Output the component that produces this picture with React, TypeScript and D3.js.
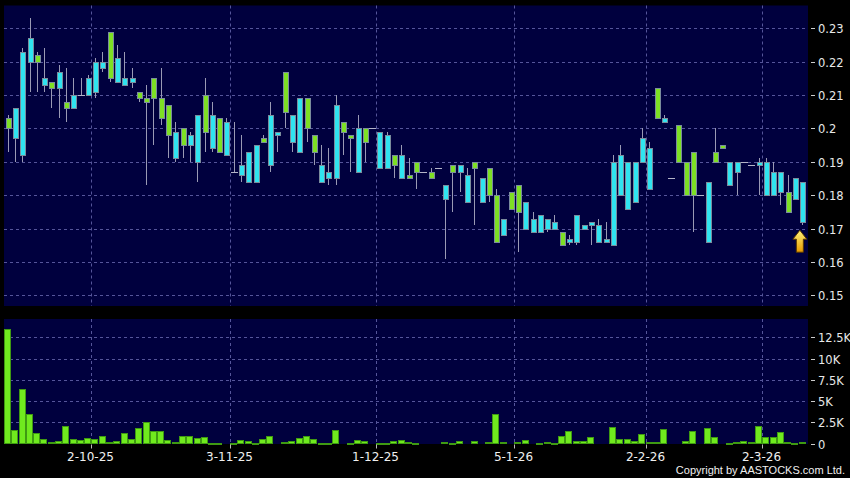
import React, { useEffect, useRef } from "react";
import * as d3 from "d3";

// daily OHLC, oldest first
const openP = [
  0.203, 0.197, 0.192, 0.22, 0.222, 0.213, 0.214, 0.212, 0.208, 0.206,
  0.21, 0.21, 0.211, 0.218, 0.229, 0.214, 0.213, 0.214, 0.211, 0.209,
  0.215, 0.209, 0.207, 0.191, 0.2, 0.195, 0.19, 0.21, 0.194, 0.203,
  0.192, 0.187, 0.186, 0.184, 0.184, 0.197, 0.189, 0.198, 0.217, 0.196,
  0.193, 0.209, 0.198, 0.184, 0.185, 0.185, 0.202, 0.198, 0.187, 0.2,
  0.2, 0.188, 0.188, 0.192, 0.185, 0.186, 0.19, 0.187, 0.187, 0.188,
  0.179, 0.189, 0.187, 0.178, 0.19, 0.178, 0.188, 0.18, 0.168, 0.181,
  0.183, 0.17, 0.169, 0.169, 0.17, 0.17, 0.169, 0.166, 0.166, 0.17,
  0.171, 0.166, 0.166, 0.165, 0.18, 0.176, 0.178, 0.19, 0.182, 0.212,
  0.202, 0.185, 0.201, 0.19, 0.193, 0.18, 0.166, 0.193, 0.195, 0.183,
  0.187, 0.19, 0.189, 0.189, 0.18, 0.18, 0.181, 0.181, 0.179, 0.172,
];
const highP = [
  0.204, 0.206, 0.224, 0.233, 0.223, 0.224, 0.214, 0.219, 0.218, 0.215,
  0.215, 0.216, 0.221, 0.223, 0.229, 0.225, 0.223, 0.218, 0.211, 0.213,
  0.215, 0.218, 0.207, 0.202, 0.2, 0.199, 0.204, 0.215, 0.208, 0.203,
  0.203, 0.202, 0.198, 0.193, 0.195, 0.198, 0.208, 0.199, 0.217, 0.204,
  0.209, 0.209, 0.198, 0.195, 0.194, 0.21, 0.202, 0.198, 0.204, 0.2,
  0.2, 0.199, 0.199, 0.192, 0.195, 0.191, 0.19, 0.187, 0.188, 0.188,
  0.183, 0.189, 0.189, 0.188, 0.19, 0.185, 0.188, 0.182, 0.173, 0.181,
  0.183, 0.178, 0.175, 0.174, 0.173, 0.174, 0.169, 0.168, 0.174, 0.171,
  0.172, 0.173, 0.172, 0.192, 0.195, 0.19, 0.19, 0.2, 0.196, 0.212,
  0.204, 0.185, 0.201, 0.19, 0.193, 0.18, 0.184, 0.2, 0.195, 0.19,
  0.19, 0.19, 0.189, 0.191, 0.191, 0.19, 0.187, 0.186, 0.185, 0.184,
];
const lowP = [
  0.193, 0.19, 0.19, 0.211, 0.211, 0.211, 0.206, 0.203, 0.202, 0.206,
  0.21, 0.21, 0.209, 0.217, 0.214, 0.214, 0.213, 0.212, 0.208, 0.183,
  0.195, 0.201, 0.191, 0.19, 0.191, 0.19, 0.184, 0.193, 0.193, 0.193,
  0.192, 0.187, 0.184, 0.184, 0.184, 0.196, 0.187, 0.193, 0.2, 0.193,
  0.193, 0.196, 0.189, 0.184, 0.183, 0.183, 0.192, 0.187, 0.187, 0.19,
  0.2, 0.188, 0.188, 0.185, 0.185, 0.185, 0.182, 0.187, 0.185, 0.188,
  0.161, 0.175, 0.181, 0.178, 0.171, 0.178, 0.178, 0.166, 0.168, 0.176,
  0.163, 0.17, 0.169, 0.169, 0.169, 0.17, 0.165, 0.165, 0.165, 0.17,
  0.165, 0.166, 0.166, 0.165, 0.18, 0.176, 0.178, 0.19, 0.182, 0.203,
  0.202, 0.185, 0.19, 0.18, 0.169, 0.18, 0.166, 0.19, 0.194, 0.183,
  0.18, 0.19, 0.189, 0.18, 0.18, 0.18, 0.177, 0.175, 0.179, 0.171,
];
const closeP = [
  0.2, 0.206, 0.223, 0.227, 0.22, 0.215, 0.212, 0.217, 0.206, 0.21,
  0.21, 0.215, 0.22, 0.22, 0.215, 0.221, 0.215, 0.215, 0.209, 0.208,
  0.209, 0.203, 0.198, 0.199, 0.195, 0.198, 0.204, 0.199, 0.204, 0.193,
  0.202, 0.187, 0.189, 0.193, 0.195, 0.196, 0.204, 0.199, 0.205, 0.204,
  0.209, 0.2, 0.193, 0.189, 0.187, 0.207, 0.199, 0.197, 0.2, 0.196,
  0.2, 0.199, 0.198, 0.189, 0.192, 0.185, 0.187, 0.187, 0.185, 0.188,
  0.183, 0.187, 0.189, 0.186, 0.188, 0.185, 0.18, 0.166, 0.173, 0.176,
  0.175, 0.178, 0.173, 0.174, 0.173, 0.172, 0.165, 0.167, 0.174, 0.171,
  0.172, 0.171, 0.167, 0.19, 0.192, 0.19, 0.19, 0.197, 0.194, 0.203,
  0.203, 0.185, 0.19, 0.18, 0.18, 0.18, 0.184, 0.19, 0.194, 0.19,
  0.19, 0.19, 0.189, 0.19, 0.19, 0.187, 0.187, 0.175, 0.185, 0.184,
];
const volume = [
  13480, 1570, 6370, 3460, 1180, 550, 160, 310, 2100, 550,
  390, 630, 510, 940, 120, 310, 1260, 510, 1830, 2480,
  1530, 1450, 390, 140, 860, 860, 630, 790, 100, 100,
  0, 80, 470, 260, 40, 510, 860, 0, 150, 310,
  700, 850, 510, 110, 110, 1590, 0, 60, 390, 280,
  0, 100, 110, 260, 390, 180, 100, 0, 0, 0,
  200, 100, 240, 0, 330, 0, 140, 3420, 160, 0,
  120, 390, 0, 110, 220, 80, 900, 1420, 280, 310,
  710, 0, 0, 1910, 510, 510, 260, 1100, 150, 220,
  1690, 0, 0, 330, 1490, 0, 1810, 790, 0, 100,
  130, 240, 150, 2100, 790, 750, 1300, 150, 110, 220,
];

const dateTickIndex = [12, 31, 51, 70, 88, 104];
const dateTickLabels = ["2-10-25", "3-11-25", "1-12-25", "5-1-26", "2-2-26", "2-3-26"];
const priceTicks = [0.15, 0.16, 0.17, 0.18, 0.19, 0.2, 0.21, 0.22, 0.23];
const volTicks = [0, 2500, 5000, 7500, 10000, 12500];
const volTickLabels = ["0", "2.5K", "5K", "7.5K", "10K", "12.5K"];

const UP = "#30e4f0";
const DOWN = "#7ee024";
const BG = "#00003e";
const GRID = "#55559a";

const CandleChart = () => {
  const ref = useRef(null);

  useEffect(() => {
    const width = 850;
    const height = 478;
    const left = 4;
    const right = 808;
    const pTop = 5.5;
    const pBottom = 306;
    const vTop = 319;
    const vBottom = 443.5;

    const root = d3.select(ref.current);
    root.selectAll("*").remove();

    const svg = root
      .append("svg")
      .attr("width", width)
      .attr("height", height)
      .style("position", "absolute")
      .style("left", 0)
      .style("top", 0)
      .style("font-family", "'DejaVu Sans', sans-serif");

    svg.append("rect").attr("width", width).attr("height", height).attr("fill", "#000");

    const idx = d3.range(closeP.length);
    const x = d3.scaleBand().domain(idx).range([left, right - 2]).paddingInner(0.2).paddingOuter(0.1);
    const step = x.step();
    const cx = (i) => x(i) + x.bandwidth() / 2;
    const gridX = (i) => Math.round(cx(i) - step / 2) + 0.5;

    const y = d3.scaleLinear().domain([0.15, 0.23]).range([295.3, 28.3]);
    const yv = d3.scaleLinear().domain([0, 12500]).range([vBottom, 337.3]);

    // panels
    svg.append("rect").attr("x", left).attr("y", pTop).attr("width", right - left).attr("height", pBottom - pTop).attr("fill", BG);
    svg.append("rect").attr("x", left).attr("y", vTop).attr("width", right - left).attr("height", vBottom - vTop + 0.5).attr("fill", BG);

    const grid = svg.append("g").attr("stroke", GRID).attr("stroke-width", 1).attr("stroke-dasharray", "3,3");
    priceTicks.forEach((t) => {
      const yy = Math.round(y(t)) + 0.5;
      grid.append("line").attr("x1", left).attr("x2", right).attr("y1", yy).attr("y2", yy);
    });
    volTicks.slice(1).forEach((t) => {
      const yy = Math.round(yv(t)) + 0.5;
      grid.append("line").attr("x1", left).attr("x2", right).attr("y1", yy).attr("y2", yy);
    });
    dateTickIndex.forEach((i) => {
      const xx = gridX(i);
      grid.append("line").attr("x1", xx).attr("x2", xx).attr("y1", pTop).attr("y2", pBottom);
      grid.append("line").attr("x1", xx).attr("x2", xx).attr("y1", vTop).attr("y2", vBottom);
    });

    // candles
    const candles = svg.append("g").attr("shape-rendering", "crispEdges");
    const bw = x.bandwidth();
    idx.forEach((i) => {
      const c = Math.round(cx(i)) + 0.5;
      const o = openP[i];
      const cl = closeP[i];
      candles
        .append("line")
        .attr("x1", c)
        .attr("x2", c)
        .attr("y1", y(highP[i]))
        .attr("y2", y(lowP[i]))
        .attr("stroke", "#9a9ab4");
      if (o === cl) {
        candles
          .append("line")
          .attr("x1", c - bw / 2 - 0.5)
          .attr("x2", c + bw / 2 + 0.5)
          .attr("y1", Math.round(y(o)) + 0.5)
          .attr("y2", Math.round(y(o)) + 0.5)
          .attr("stroke", "#b4b4c8");
      } else {
        const top = Math.round(y(Math.max(o, cl)));
        const bot = Math.round(y(Math.min(o, cl)));
        candles
          .append("rect")
          .attr("x", Math.round(c - bw / 2) + 0.5)
          .attr("y", top + 0.5)
          .attr("width", Math.round(bw) - 1)
          .attr("height", Math.max(bot - top, 2))
          .attr("fill", cl > o ? UP : DOWN)
          .attr("stroke", "#7a8c9c");
      }
    });

    // volume bars
    const vb = svg.append("g").attr("shape-rendering", "crispEdges");
    idx.forEach((i) => {
      if (!volume[i]) return;
      const top = Math.round(yv(volume[i]));
      vb.append("rect")
        .attr("x", Math.round(cx(i) - step / 2) + 0.5)
        .attr("y", top + 0.5)
        .attr("width", Math.round(step) - 1)
        .attr("height", Math.max(vBottom - top - 0.5, 1))
        .attr("fill", "#70ea1e")
        .attr("stroke", "#3f9a12");
    });

    // right axis labels
    const axis = svg.append("g").attr("fill", "#e8e8e8").attr("font-size", 11.5);
    priceTicks.forEach((t) => {
      const yy = Math.round(y(t)) + 0.5;
      svg.append("line").attr("x1", 811).attr("x2", 815).attr("y1", yy).attr("y2", yy).attr("stroke", "#ccc");
      axis.append("text").attr("x", 818).attr("y", yy).attr("dy", "0.35em").text(String(+t.toFixed(2)));
    });
    volTicks.forEach((t, k) => {
      const yy = Math.round(yv(t)) + 0.5;
      svg.append("line").attr("x1", 811).attr("x2", 815).attr("y1", yy).attr("y2", yy).attr("stroke", "#ccc");
      axis.append("text").attr("x", 818).attr("y", yy).attr("dy", "0.35em").text(volTickLabels[k]);
    });

    // date labels
    dateTickIndex.forEach((i, k) => {
      const xx = gridX(i);
      svg.append("line").attr("x1", xx).attr("x2", xx).attr("y1", vBottom + 1).attr("y2", vBottom + 5).attr("stroke", "#bbb");
      svg
        .append("text")
        .attr("x", xx - 1)
        .attr("y", 461)
        .attr("text-anchor", "middle")
        .attr("font-size", 12)
        .attr("fill", "#f0f0f0")
        .text(dateTickLabels[k]);
    });

    svg
      .append("text")
      .attr("x", 845)
      .attr("y", 474)
      .attr("text-anchor", "end")
      .attr("font-size", 11)
      .attr("font-family", "'Liberation Sans', Arial, sans-serif")
      .attr("fill", "#f0f0f0")
      .text("Copyright by AASTOCKS.com Ltd.");

    // last price marker
    const grad = svg
      .append("defs")
      .append("linearGradient")
      .attr("id", "arrowGrad")
      .attr("x1", 0)
      .attr("x2", 0)
      .attr("y1", 0)
      .attr("y2", 1);
    grad.append("stop").attr("offset", "0%").attr("stop-color", "#fff27a");
    grad.append("stop").attr("offset", "100%").attr("stop-color", "#e69a00");

    const last = closeP.length - 1;
    const ax = cx(last) - 2.5;
    const ay = y(lowP[last]) + 5;
    const arrow = d3.path();
    arrow.moveTo(ax, ay);
    arrow.lineTo(ax + 7, ay + 9);
    arrow.lineTo(ax + 3.5, ay + 9);
    arrow.lineTo(ax + 3.5, ay + 22);
    arrow.lineTo(ax - 3.5, ay + 22);
    arrow.lineTo(ax - 3.5, ay + 9);
    arrow.lineTo(ax - 7, ay + 9);
    arrow.closePath();
    svg
      .append("path")
      .attr("d", arrow.toString())
      .attr("fill", "url(#arrowGrad)")
      .attr("stroke", "#5a3800")
      .attr("stroke-width", 1);
  }, []);

  return <div ref={ref} />;
};

export default function App() {
  return <CandleChart />;
}
